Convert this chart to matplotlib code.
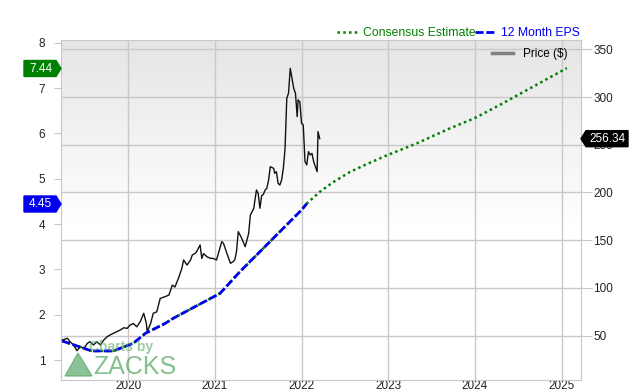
import numpy as np
import matplotlib
matplotlib.use('Agg')
import matplotlib.pyplot as plt
from matplotlib.colors import LinearSegmentedColormap
from matplotlib.lines import Line2D
from matplotlib.patches import Polygon

plt.rcParams['font.family'] = ['Liberation Sans', 'DejaVu Sans']

# decimal years on the x axis
price_years = [
    2019.24, 2019.30, 2019.33, 2019.37, 2019.41, 2019.45, 2019.49, 2019.53,
    2019.56, 2019.60, 2019.64, 2019.68, 2019.72, 2019.76, 2019.79, 2019.83,
    2019.87, 2019.91, 2019.95, 2019.99, 2020.02, 2020.06, 2020.10, 2020.14,
    2020.18, 2020.21, 2020.22, 2020.26, 2020.29, 2020.33, 2020.37, 2020.43,
    2020.47, 2020.51, 2020.54, 2020.58, 2020.62, 2020.64, 2020.68, 2020.72,
    2020.74, 2020.77, 2020.79, 2020.83, 2020.85, 2020.87, 2020.91, 2020.95,
    2020.98, 2021.02, 2021.04, 2021.08, 2021.10, 2021.14, 2021.18, 2021.21,
    2021.23, 2021.25, 2021.27, 2021.31, 2021.35, 2021.39, 2021.41, 2021.45,
    2021.46, 2021.48, 2021.50, 2021.52, 2021.54, 2021.56, 2021.58, 2021.60,
    2021.62, 2021.64, 2021.68, 2021.69, 2021.71, 2021.73, 2021.75, 2021.77,
    2021.79, 2021.81, 2021.83, 2021.85, 2021.87, 2021.89, 2021.91, 2021.93,
    2021.95, 2021.96, 2021.98, 2022.00, 2022.02, 2022.04, 2022.06, 2022.08,
    2022.10, 2022.12, 2022.14, 2022.16, 2022.18, 2022.19, 2022.21,
]
price_values = [
    45.5, 47.3, 43.7, 40.3, 34.3, 38.5, 36.8, 42.0,
    43.7, 40.3, 43.7, 40.3, 45.6, 49.0, 50.7, 52.5,
    54.2, 56.0, 58.3, 57.7, 61.0, 62.8, 59.3, 64.7,
    73.5, 63.0, 54.2, 63.0, 73.5, 75.0, 89.0, 91.0,
    92.6, 103.0, 101.0, 110.0, 120.6, 129.3, 124.0, 129.3,
    134.5, 136.0, 138.0, 145.0, 131.0, 136.0, 132.6, 131.0,
    131.0, 129.3, 136.0, 148.5, 146.7, 136.0, 125.8, 127.5,
    129.3, 138.0, 159.0, 152.0, 143.2, 157.0, 176.4, 183.5,
    190.4, 202.6, 199.0, 183.5, 196.5, 198.0, 202.6, 204.4,
    213.0, 227.0, 225.2, 220.0, 221.8, 209.6, 207.8, 213.0,
    225.0, 246.0, 298.7, 304.0, 330.0, 319.6, 309.0, 304.0,
    279.4, 297.0, 295.0, 272.5, 270.7, 232.3, 228.8, 242.7,
    239.3, 241.0, 232.3, 227.0, 221.8, 263.7, 256.34,
]

eps_years = [2019.24, 2019.58, 2019.83, 2020.06, 2020.20, 2020.43, 2020.52,
             2021.06, 2021.29, 2021.52, 2022.00, 2022.06]
eps_values = [1.42, 1.20, 1.20, 1.37, 1.59, 1.81, 1.92,
              2.47, 2.95, 3.39, 4.31, 4.45]

est_years = [2022.21, 2022.37, 2022.56, 2022.75, 2022.99, 2023.33, 2023.71,
             2023.99, 2024.29, 2024.67, 2025.06]
est_values = [4.71, 4.93, 5.15, 5.32, 5.52, 5.78, 6.11,
              6.33, 6.63, 7.03, 7.44]

year_ticks = [2020, 2021, 2022, 2023, 2024, 2025]
price_ticks = [50, 100, 150, 200, 250, 300, 350]
eps_ticks = [1, 2, 3, 4, 5, 6, 7, 8]

GREEN = '#008000'
BLUE = '#0000ee'
GRID = '#c8c8c8'


def main():
    fig = plt.figure(figsize=(6.4, 3.9), dpi=100)
    ax = fig.add_axes([60.5 / 640, 10 / 390, 520.2 / 640, 340 / 390])
    ax2 = ax.twinx()

    # grey fading background (top grey, white from the middle down)
    lin = np.linspace(1.0, 0.0, 256).reshape(-1, 1)
    grad = np.clip((lin - 0.45) / 0.55, 0, 1)
    ax.imshow(grad, extent=[0, 1, 0, 1], transform=ax.transAxes,
              cmap=LinearSegmentedColormap.from_list(
                  'bg', ['#ffffff', '#e5e5e5']),
              aspect='auto', zorder=0, vmin=0, vmax=1)

    # price on the right axis
    ax.plot(price_years, price_values, color='#111111', lw=1.0, zorder=3)
    ax.set_xlim(2019.22, 2025.22)
    ax.set_ylim(3.6, 359.7)
    ax.yaxis.tick_right()
    ax.set_yticks(price_ticks)
    ax.set_xticks(year_ticks)
    ax.grid(True, color=GRID, lw=1.0, zorder=1)
    ax.set_axisbelow(True)
    ax.tick_params(axis='y', length=8, color=GRID, labelsize=8.5,
                   pad=1, labelcolor='#222222')
    ax.tick_params(axis='x', length=0, labelsize=8.5, pad=0,
                   labelcolor='#222222')
    for s in ax.spines.values():
        s.set_color(GRID)

    # EPS on the left axis
    ax2.yaxis.tick_left()
    ax2.set_ylim(0.559, 8.06)
    ax2.set_yticks(eps_ticks)
    ax2.tick_params(axis='y', length=5, color=GRID, labelsize=8.5,
                    pad=6, labelcolor='#222222')
    for s in ax2.spines.values():
        s.set_visible(False)
    ax2.plot(eps_years + est_years, eps_values + est_values, color=GREEN,
             lw=1.8, ls=(0, (1, 1.3)), zorder=3)
    ax2.plot(eps_years, eps_values, color=BLUE, lw=2.0,
             ls=(0, (2.9, 1)), zorder=4)

    # legends
    top = [Line2D([], [], color=GREEN, lw=1.8, ls=(0, (1, 1.3))),
           Line2D([], [], color=BLUE, lw=2.0, ls=(0, (2.9, 1)))]
    leg = ax2.legend(top, ['Consensus Estimate', '12 Month EPS'],
                     loc='lower right', bbox_to_anchor=(1.01, 0.985), ncol=2,
                     frameon=False, fontsize=8.8, handlelength=1.7,
                     handletextpad=0.4, columnspacing=0.0,
                     borderaxespad=0.1, labelcolor=[GREEN, BLUE])
    ax2.add_artist(leg)
    ax2.legend([Line2D([], [], color='#808080', lw=2.5)], ['Price ($)'],
               loc='upper right', bbox_to_anchor=(0.99, 1.0), frameon=False,
               fontsize=8.5, handlelength=1.8, handletextpad=0.8,
               borderaxespad=0.3)

    # value tags
    def tag(x0, x1, yc, text, color, tip):
        h = 8
        if tip == 'right':
            pts = [(x0, yc - h), (x1 - 5, yc - h), (x1, yc),
                   (x1 - 5, yc + h), (x0, yc + h)]
        else:
            pts = [(x0, yc), (x0 + 5, yc - h), (x1, yc - h),
                   (x1, yc + h), (x0 + 5, yc + h)]
        pts = [(px / 640, 1 - py / 390) for px, py in pts]
        fig.add_artist(Polygon(pts, closed=True, color=color,
                               transform=fig.transFigure))
        cx = (x0 + x1) / 2 + (-2 if tip == 'right' else 3)
        fig.text(cx / 640, 1 - yc / 390, text, color='white', fontsize=8.5,
                 ha='center', va='center')

    tag(24, 61, 68.5, f'{est_values[-1]:.2f}', GREEN, 'right')
    tag(24, 61, 204, f'{eps_values[-1]:.2f}', BLUE, 'right')
    yc = ax.transData.transform((0, price_values[-1]))[1]
    tag(581, 628, 390 - yc, f'{price_values[-1]:.2f}', 'black', 'left')

    # watermark
    wm = '#5aaa6a'
    fig.add_artist(Polygon([(65 / 640, 1 - 376 / 390),
                            (78 / 640, 1 - 353 / 390),
                            (92 / 640, 1 - 376 / 390)],
                           closed=True, color=wm, alpha=0.7,
                           transform=fig.transFigure))
    fig.text(121 / 640, 1 - 347 / 390, 'Charts by', color=wm, alpha=0.6,
             fontsize=10, fontweight='bold', ha='center', va='center')
    fig.text(135 / 640, 1 - 367 / 390, 'ZACKS', color=wm, alpha=0.75,
             fontsize=18, ha='center', va='center')

    fig.savefig('out.png', dpi=100)


if __name__ == '__main__':
    main()
